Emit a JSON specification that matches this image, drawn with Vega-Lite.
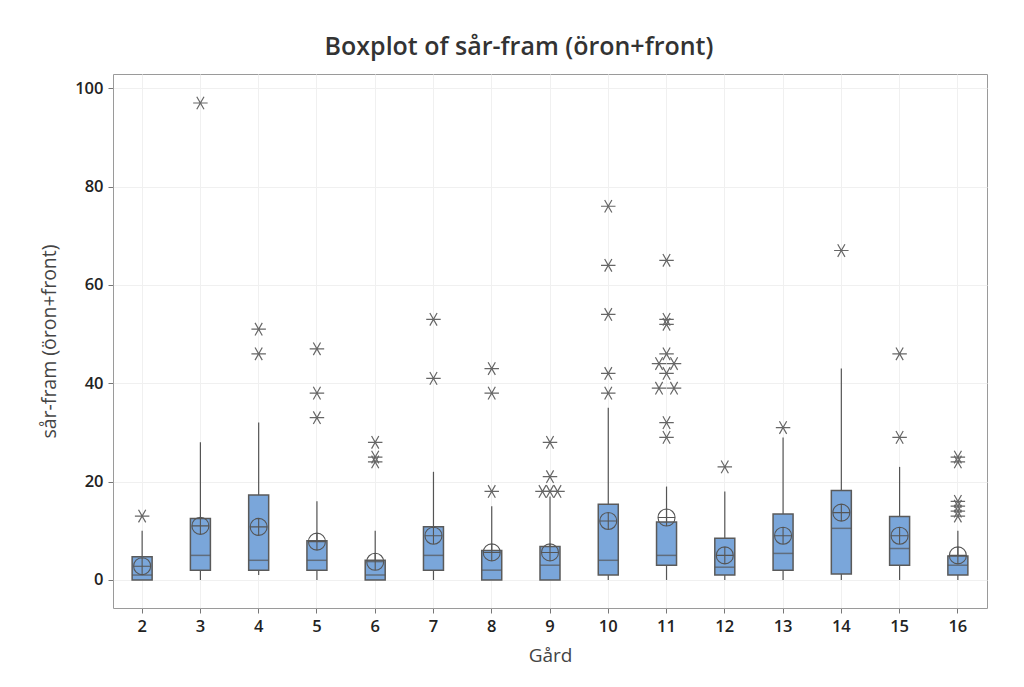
{
  "$schema": "https://vega.github.io/schema/vega-lite/v6.json",
  "width": 874,
  "height": 534,
  "autosize": "none",
  "padding": {"left": 113, "top": 74, "right": 37, "bottom": 79},
  "background": "white",
  "title": {
    "text": "Boxplot of sår-fram (öron+front)",
    "font": "Open Sans",
    "fontSize": 25,
    "fontWeight": 600,
    "color": "#333333",
    "offset": 14,
    "anchor": "middle",
    "dx": -31
  },
  "config": {
    "view": {"stroke": "#9a9a9a", "strokeWidth": 1},
    "font": "Open Sans"
  },
  "datasets": {
    "boxes": [
      {"Gård": "2", "lo": 0, "q1": 0, "median": 1, "q3": 4.7, "hi": 10, "mean": 2.8},
      {"Gård": "3", "lo": 0, "q1": 2, "median": 5, "q3": 12.5, "hi": 28, "mean": 11},
      {"Gård": "4", "lo": 1, "q1": 2, "median": 4, "q3": 17.3, "hi": 32, "mean": 10.8},
      {"Gård": "5", "lo": 0, "q1": 2, "median": 4, "q3": 8, "hi": 16, "mean": 7.8},
      {"Gård": "6", "lo": 0, "q1": 0, "median": 1, "q3": 4, "hi": 10, "mean": 3.7},
      {"Gård": "7", "lo": 0, "q1": 2, "median": 5, "q3": 10.8, "hi": 22, "mean": 9},
      {"Gård": "8", "lo": 0, "q1": 0, "median": 2, "q3": 6, "hi": 15, "mean": 5.6},
      {"Gård": "9", "lo": 0, "q1": 0, "median": 3, "q3": 6.8, "hi": 17, "mean": 5.6},
      {"Gård": "10", "lo": 0, "q1": 1, "median": 4, "q3": 15.4, "hi": 35, "mean": 12},
      {"Gård": "11", "lo": 0, "q1": 3, "median": 5, "q3": 11.8, "hi": 19, "mean": 12.7},
      {"Gård": "12", "lo": 0, "q1": 1, "median": 2.6, "q3": 8.5, "hi": 18, "mean": 5},
      {"Gård": "13", "lo": 0, "q1": 2, "median": 5.4, "q3": 13.4, "hi": 29, "mean": 9},
      {"Gård": "14", "lo": 0, "q1": 1.2, "median": 10.5, "q3": 18.2, "hi": 43, "mean": 13.7},
      {"Gård": "15", "lo": 0, "q1": 3, "median": 6.4, "q3": 12.9, "hi": 23, "mean": 9},
      {"Gård": "16", "lo": 0, "q1": 1, "median": 3, "q3": 4.9, "hi": 10, "mean": 5}
    ],
    "outliers": [
      {"Gård": "2", "value": 13, "tie": 0},
      {"Gård": "3", "value": 97, "tie": 0},
      {"Gård": "4", "value": 51, "tie": 0},
      {"Gård": "4", "value": 46, "tie": 0},
      {"Gård": "5", "value": 47, "tie": 0},
      {"Gård": "5", "value": 38, "tie": 0},
      {"Gård": "5", "value": 33, "tie": 0},
      {"Gård": "6", "value": 28, "tie": 0},
      {"Gård": "6", "value": 25, "tie": 0},
      {"Gård": "6", "value": 24, "tie": 0},
      {"Gård": "7", "value": 53, "tie": 0},
      {"Gård": "7", "value": 41, "tie": 0},
      {"Gård": "8", "value": 43, "tie": 0},
      {"Gård": "8", "value": 38, "tie": 0},
      {"Gård": "8", "value": 18, "tie": 0},
      {"Gård": "9", "value": 28, "tie": 0},
      {"Gård": "9", "value": 21, "tie": 0},
      {"Gård": "9", "value": 18, "tie": -1},
      {"Gård": "9", "value": 18, "tie": 0},
      {"Gård": "9", "value": 18, "tie": 1},
      {"Gård": "10", "value": 76, "tie": 0},
      {"Gård": "10", "value": 64, "tie": 0},
      {"Gård": "10", "value": 54, "tie": 0},
      {"Gård": "10", "value": 42, "tie": 0},
      {"Gård": "10", "value": 38, "tie": 0},
      {"Gård": "11", "value": 65, "tie": 0},
      {"Gård": "11", "value": 53, "tie": 0},
      {"Gård": "11", "value": 52, "tie": 0},
      {"Gård": "11", "value": 46, "tie": 0},
      {"Gård": "11", "value": 44, "tie": -1},
      {"Gård": "11", "value": 44, "tie": 1},
      {"Gård": "11", "value": 42, "tie": 0},
      {"Gård": "11", "value": 39, "tie": -1},
      {"Gård": "11", "value": 39, "tie": 1},
      {"Gård": "11", "value": 32, "tie": 0},
      {"Gård": "11", "value": 29, "tie": 0},
      {"Gård": "12", "value": 23, "tie": 0},
      {"Gård": "13", "value": 31, "tie": 0},
      {"Gård": "14", "value": 67, "tie": 0},
      {"Gård": "15", "value": 46, "tie": 0},
      {"Gård": "15", "value": 29, "tie": 0},
      {"Gård": "16", "value": 25, "tie": 0},
      {"Gård": "16", "value": 24, "tie": 0},
      {"Gård": "16", "value": 16, "tie": 0},
      {"Gård": "16", "value": 15, "tie": 0},
      {"Gård": "16", "value": 14, "tie": 0},
      {"Gård": "16", "value": 13, "tie": 0}
    ]
  },
  "encoding": {
    "x": {
      "field": "Gård",
      "type": "ordinal",
      "sort": ["2","3","4","5","6","7","8","9","10","11","12","13","14","15","16"],
      "scale": {"paddingInner": 0, "paddingOuter": 0},
      "axis": {
        "title": "Gård",
        "titleFont": "Open Sans",
        "titleFontSize": 19,
        "titleFontWeight": "normal",
        "titleColor": "#444444",
        "titlePadding": 12,
        "labelFont": "Open Sans",
        "labelFontSize": 16.5,
        "labelFontWeight": 600,
        "labelColor": "#222222",
        "labelAngle": 0,
        "labelPadding": 5,
        "tickColor": "#777777",
        "tickSize": 5,
        "domain": false,
        "grid": true,
        "gridColor": "#f0f0f0",
        "gridWidth": 1,
        "bandPosition": 0.5
      }
    }
  },
  "layer": [
    {
      "data": {"name": "boxes"},
      "mark": {"type": "rule", "color": "#555555", "strokeWidth": 1.2},
      "encoding": {
        "y": {
          "field": "lo",
          "type": "quantitative",
          "scale": {"domain": [-5.7, 102.9], "nice": false, "zero": false},
          "axis": {
            "title": "sår-fram (öron+front)",
            "titleFont": "Open Sans",
            "titleFontSize": 19.5,
            "titleFontWeight": "normal",
            "titleColor": "#444444",
            "titlePadding": 15,
            "values": [0, 20, 40, 60, 80, 100],
            "labelFont": "Open Sans",
            "labelFontSize": 16.5,
            "labelFontWeight": 600,
            "labelColor": "#222222",
            "labelPadding": 5,
            "tickColor": "#777777",
            "tickSize": 5,
            "domain": false,
            "grid": true,
            "gridColor": "#f0f0f0",
            "gridWidth": 1
          }
        },
        "y2": {"field": "hi"}
      }
    },
    {
      "data": {"name": "boxes"},
      "mark": {"type": "bar", "width": 20, "fill": "#7aa6da", "stroke": "#5a5a5a", "strokeWidth": 1.5},
      "encoding": {
        "y": {"field": "q1", "type": "quantitative"},
        "y2": {"field": "q3"}
      }
    },
    {
      "data": {"name": "boxes"},
      "mark": {"type": "tick", "size": 20, "thickness": 1.5, "color": "#555555"},
      "encoding": {
        "y": {"field": "median", "type": "quantitative"}
      }
    },
    {
      "data": {"name": "boxes"},
      "mark": {
        "type": "point",
        "shape": "M-1,0A1,1,0,1,1,1,0A1,1,0,1,1,-1,0ZM-1,0H1M0,-1V1",
        "size": 290,
        "filled": false,
        "stroke": "#555555",
        "strokeWidth": 1.1,
        "opacity": 1
      },
      "encoding": {
        "y": {"field": "mean", "type": "quantitative"}
      }
    },
    {
      "data": {"name": "outliers"},
      "mark": {
        "type": "point",
        "shape": "M-1,0H1M-0.5,-0.87L0.5,0.87M-0.5,0.87L0.5,-0.87",
        "size": 210,
        "filled": false,
        "stroke": "#666666",
        "strokeWidth": 1.2,
        "opacity": 1
      },
      "encoding": {
        "y": {"field": "value", "type": "quantitative"},
        "xOffset": {
          "field": "tie",
          "type": "quantitative",
          "scale": {"domain": [-1, 1], "range": [21.63, 36.63]}
        }
      }
    }
  ]
}
